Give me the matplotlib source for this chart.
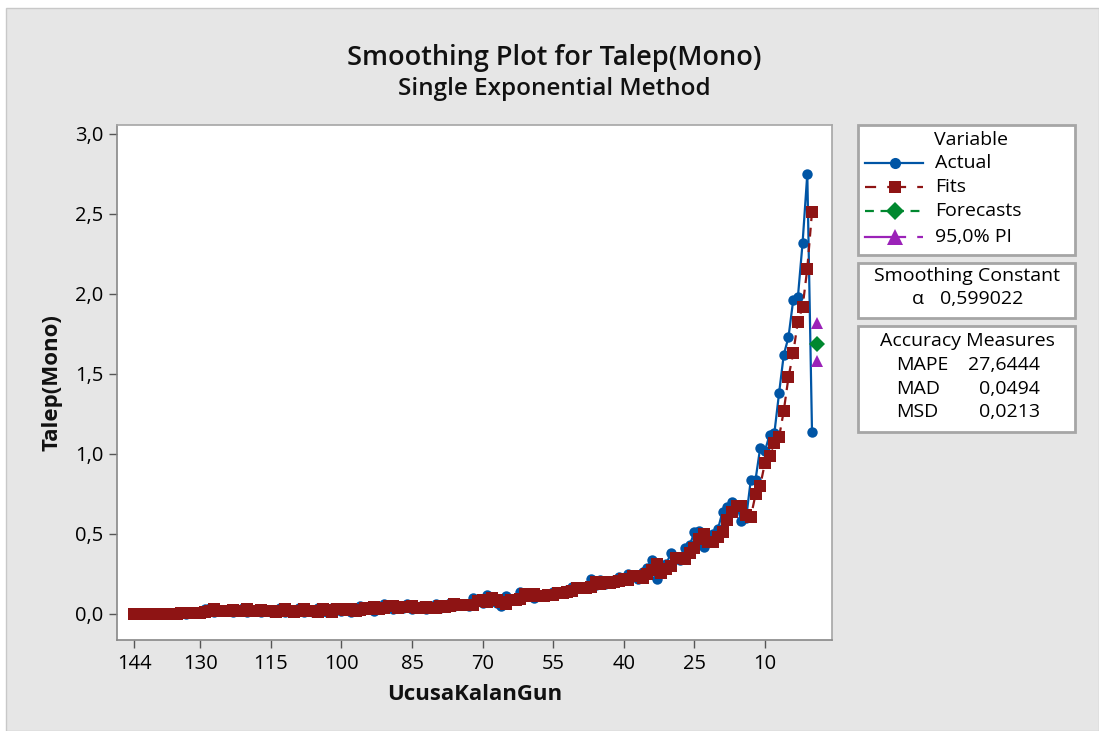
import matplotlib
matplotlib.use("Agg")
import matplotlib.pyplot as plt
from matplotlib.patches import Rectangle
from matplotlib.lines import Line2D

plt.rcParams['font.family'] = ['Open Sans', 'DejaVu Sans']

# ---------------- data ----------------
days = list(range(144, -1, -1))
actual = [
    0.00, 0.00, 0.00, 0.00, 0.00, 0.00, 0.00, 0.00, 0.00, 0.01, 0.01, 0.00, 0.01, 0.01,
    0.01, 0.03, 0.04, 0.01, 0.02, 0.02, 0.03, 0.01, 0.02, 0.04, 0.01, 0.02, 0.03, 0.01, 0.02,
    0.01, 0.02, 0.04, 0.01, 0.01, 0.02, 0.04, 0.01, 0.02, 0.01, 0.04, 0.02, 0.01, 0.04, 0.03,
    0.02, 0.04, 0.01, 0.03, 0.05, 0.03, 0.05, 0.02, 0.04, 0.06, 0.05, 0.03, 0.05, 0.04, 0.06,
    0.03, 0.04, 0.05, 0.03, 0.04, 0.06, 0.04, 0.05, 0.07, 0.05, 0.06, 0.06, 0.05, 0.10, 0.09,
    0.07, 0.12, 0.08, 0.07, 0.05, 0.11, 0.09, 0.10, 0.14, 0.11, 0.13, 0.10, 0.11, 0.12, 0.12,
    0.14, 0.13, 0.14, 0.15, 0.17, 0.16, 0.16, 0.17, 0.22, 0.18, 0.21, 0.19, 0.20, 0.21, 0.23,
    0.21, 0.25, 0.24, 0.22, 0.26, 0.29, 0.34, 0.22, 0.30, 0.31, 0.38, 0.35, 0.34, 0.41, 0.43,
    0.51, 0.52, 0.42, 0.45, 0.50, 0.53, 0.64, 0.67, 0.70, 0.68, 0.58, 0.60, 0.84, 0.84, 1.04,
    1.02, 1.12, 1.13, 1.38, 1.62, 1.73, 1.96, 1.98, 2.32, 2.75, 1.14,
]
fits = [
    0.0, 0.0, 0.0, 0.0, 0.0, 0.0, 0.0, 0.0, 0.0, 0.0, 0.006, 0.0084, 0.0034, 0.0073, 0.0089,
    0.0096, 0.0218, 0.0327, 0.0191, 0.0196, 0.0199, 0.0259, 0.0164, 0.0186, 0.0314, 0.0186,
    0.0194, 0.0258, 0.0163, 0.0185, 0.0134, 0.0174, 0.0309, 0.0184, 0.0134, 0.0173, 0.0309,
    0.0184, 0.0194, 0.0138, 0.0295, 0.0238, 0.0155, 0.0302, 0.0301, 0.024, 0.0336, 0.0195,
    0.0258, 0.0403, 0.0341, 0.0436, 0.0295, 0.0358, 0.0503, 0.0501, 0.0381, 0.0452, 0.0421,
    0.0528, 0.0391, 0.0397, 0.0459, 0.0364, 0.0385, 0.0514, 0.0446, 0.0478, 0.0611, 0.0545,
    0.0578, 0.0591, 0.0537, 0.0814, 0.0866, 0.0766, 0.1026, 0.0891, 0.0776, 0.0611, 0.0904,
    0.0902, 0.0961, 0.1224, 0.115, 0.124, 0.1096, 0.1098, 0.1159, 0.1184, 0.1313, 0.1305,
    0.1362, 0.1445, 0.1598, 0.1599, 0.16, 0.166, 0.1983, 0.1874, 0.2009, 0.1944, 0.1977,
    0.2051, 0.22, 0.214, 0.2356, 0.2382, 0.2273, 0.2469, 0.2727, 0.313, 0.2573, 0.2829,
    0.2991, 0.3476, 0.349, 0.3436, 0.3834, 0.4113, 0.4704, 0.5001, 0.4521, 0.4509, 0.4803,
    0.5101, 0.5879, 0.6371, 0.6748, 0.6779, 0.6193, 0.6077, 0.7469, 0.8027, 0.9448, 0.9899,
    1.0678, 1.1051, 1.2698, 1.4796, 1.6296, 1.8275, 1.9189, 2.1591, 2.5131,
]
forecast_day = [-1]
forecast = [1.688]
pi_upper = [1.817]
pi_lower = [1.583]
x_ticks = [144, 130, 115, 100, 85, 70, 55, 40, 25, 10]
y_ticks = [0.0, 0.5, 1.0, 1.5, 2.0, 2.5, 3.0]

# ---------------- figure ----------------
W, H = 1099, 731
fig = plt.figure(figsize=(W / 100, H / 100), dpi=100)
fig.patch.set_facecolor('white')

def fx(x):
    return x / W

def fy(y):
    return 1 - y / H

bg = Rectangle((fx(6), fy(731)), fx(1099) - fx(6), fy(8) - fy(731),
               transform=fig.transFigure, facecolor='#e6e6e6',
               edgecolor='#c8c8c8', lw=1, zorder=0)
fig.add_artist(bg)

L, R, T, B = 117, 832, 125, 640
ax = fig.add_axes([fx(L), fy(B), fx(R) - fx(L), fy(T) - fy(B)])
ax.set_facecolor('white')

blue = '#0055a5'
red = '#8e1414'
green = '#00882f'
purple = '#9b22b8'

ax.plot(days, actual, color=blue, lw=1.6, marker='o', ms=7.5,
        markeredgewidth=0, zorder=3)
ax.plot(days, fits, color=red, lw=1.6, ls=(0, (4, 3)), marker='s', ms=8.5,
        markeredgewidth=0, zorder=4)
ax.plot(forecast_day, forecast, color=green, ls='none', marker='D', ms=8,
        markeredgewidth=0, zorder=5)
ax.plot(forecast_day, pi_upper, color=purple, ls='none', marker='^', ms=9,
        markeredgewidth=0, zorder=5)
ax.plot(forecast_day, pi_lower, color=purple, ls='none', marker='^', ms=9,
        markeredgewidth=0, zorder=5)

ax.set_xlim(147.7, -4.25)
ax.set_ylim(-0.1625, 3.056)
ax.set_xticks(x_ticks)
ax.set_xticklabels([str(t) for t in x_ticks])
ax.set_yticks(y_ticks)
ax.set_yticklabels([f"{t:.1f}".replace('.', ',') for t in y_ticks])
ax.tick_params(axis='both', direction='out', length=6, width=1,
               color='#555555', labelsize=14.5, labelcolor='#000000', pad=4)
for s in ax.spines.values():
    s.set_color('#a6a6a6')
    s.set_linewidth(1.2)
ax.spines['left'].set_color('#888888')
ax.spines['bottom'].set_color('#888888')

ax.set_xlabel('UcusaKalanGun', fontsize=16, fontweight='bold', color='#111111', labelpad=7)
ax.set_ylabel('Talep(Mono)', fontsize=16, fontweight='bold', color='#111111', labelpad=9)

fig.text(fx(554), fy(58), 'Smoothing Plot for Talep(Mono)', ha='center', va='center',
         fontsize=19.5, fontweight='semibold', color='#111111')
fig.text(fx(554), fy(89), 'Single Exponential Method', ha='center', va='center',
         fontsize=17.5, fontweight='semibold', color='#111111')

# ---------------- legend / info boxes ----------------
def box(x0, y0, x1, y1):
    fig.add_artist(Rectangle((fx(x0), fy(y1)), fx(x1) - fx(x0), fy(y0) - fy(y1),
                             transform=fig.transFigure, facecolor='white',
                             edgecolor='#a6a6a6', lw=2, zorder=2))

box(858, 125, 1075, 255)
box(858, 263, 1075, 318)
box(858, 326, 1075, 432)

tk = dict(fontsize=14, color='#000000', va='center', zorder=3)
fig.text(fx(971), fy(140), 'Variable', ha='center', **tk)

entries = [
    ('Actual', blue, '-', '-', 'o', 8, 163),
    ('Fits', red, (0, (5, 5)), (0, (5, 5)), 's', 9, 187),
    ('Forecasts', green, (0, (4, 3)), (0, (4, 3)), 'D', 9.5, 211),
    ('95,0% PI', purple, '-', (0, (5, 5)), '^', 11, 237),
]
for label, col, ls_left, ls_right, mk, ms, yy in entries:
    fig.add_artist(Line2D([fx(865), fx(895)], [fy(yy), fy(yy)], transform=fig.transFigure,
                          color=col, ls=ls_left, lw=1.6, zorder=3))
    fig.add_artist(Line2D([fx(895), fx(923)], [fy(yy), fy(yy)], transform=fig.transFigure,
                          color=col, ls=ls_right, lw=1.6, zorder=3))
    fig.add_artist(Line2D([fx(895)], [fy(yy)], transform=fig.transFigure,
                          color=col, marker=mk, ms=ms, markeredgewidth=0, ls='none', zorder=4))
    fig.text(fx(935), fy(yy), label, ha='left', **tk)

fig.text(fx(967), fy(276), 'Smoothing Constant', ha='center', **tk)
fig.text(fx(912), fy(299), 'α', ha='left', **tk)
fig.text(fx(1023), fy(299), '0,599022', ha='right', **tk)

fig.text(fx(967), fy(341), 'Accuracy Measures', ha='center', **tk)
for lab, val, yy in [('MAPE', '27,6444', 365), ('MAD', '0,0494', 389), ('MSD', '0,0213', 412)]:
    fig.text(fx(896), fy(yy), lab, ha='left', **tk)
    fig.text(fx(1040), fy(yy), val, ha='right', **tk)

fig.savefig('out.png', dpi=100, facecolor=fig.get_facecolor())
